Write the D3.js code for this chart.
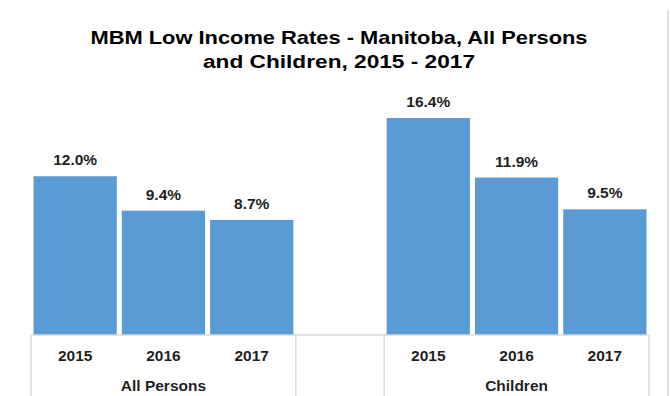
<!DOCTYPE html>
<html>
<head>
<meta charset="utf-8">
<script src="https://cdn.jsdelivr.net/npm/d3@7"></script>
<style>
  html, body { margin: 0; padding: 0; background: #fff; }
  svg { display: block; font-family: "Liberation Sans", Arial, sans-serif; }
</style>
</head>
<body>
<svg id="chart" width="670" height="396"></svg>
<script>
// MBM low income rates, Manitoba (percent)
const groups = ["All Persons", "Children"];
const years = ["2015", "2016", "2017"];
const allPersons = [12.0, 9.4, 8.7];
const children = [16.4, 11.9, 9.5];
const titleLines = ["MBM Low Income Rates - Manitoba, All Persons", "and Children, 2015 - 2017"];

const seriesByGroup = { "All Persons": allPersons, "Children": children };

// One slot per bar, with an empty slot separating the two groups
const slots = [];
groups.forEach((g, gi) => {
  if (gi > 0) slots.push("gap" + gi);
  years.forEach(y => slots.push(g + "|" + y));
});
const bars = [];
groups.forEach(g => years.forEach((y, i) => bars.push({ group: g, year: y, value: seriesByGroup[g][i], key: g + "|" + y })));

const svg = d3.select("#chart");
const left = 31, right = 649, baseline = 335;

const x = d3.scaleBand().domain(slots).range([left, right]).paddingInner(0.057).paddingOuter(0.0285);
const y = d3.scaleLinear().domain([0, 20]).range([baseline, baseline - 264.6]);

const grid = "#d9d9d9";
const ink = "#1f1f1f";
const fill = "#5b9bd5";

// Outer frame edge on the right
svg.append("line")
  .attr("x1", 668).attr("x2", 668).attr("y1", 10).attr("y2", 396)
  .attr("stroke", "#e0e0e0").attr("stroke-width", 2);

// Title
svg.append("g").selectAll("text").data(titleLines).join("text")
  .attr("x", 339).attr("y", (d, i) => 43.5 + i * 24)
  .attr("text-anchor", "middle")
  .attr("font-size", 19).attr("font-weight", "bold").attr("fill", "#000")
  .attr("textLength", (d, i) => i === 0 ? 497 : 272)
  .attr("lengthAdjust", "spacingAndGlyphs")
  .text(d => d);

// Bars
svg.append("g").selectAll("rect").data(bars).join("rect")
  .attr("x", d => x(d.key))
  .attr("width", x.bandwidth())
  .attr("y", d => y(d.value))
  .attr("height", d => y(0) - y(d.value))
  .attr("fill", fill);

// Value labels
svg.append("g").selectAll("text").data(bars).join("text")
  .attr("x", d => x(d.key) + x.bandwidth() / 2)
  .attr("y", d => y(d.value) - 11)
  .attr("text-anchor", "middle")
  .attr("font-size", 15.5).attr("font-weight", "bold").attr("fill", ink)
  .text(d => d.value.toFixed(1) + "%");

// Category axis: baseline plus group separators
svg.append("line")
  .attr("x1", left).attr("x2", right).attr("y1", baseline).attr("y2", baseline)
  .attr("stroke", grid).attr("stroke-width", 1.5);

const step = x.step();
const bounds = [];
slots.forEach((s, i) => {
  if (i === 0 || s.startsWith("gap") || (i > 0 && slots[i - 1].startsWith("gap"))) bounds.push(left + i * step);
});
bounds.push(right);
svg.append("g").selectAll("line").data(bounds).join("line")
  .attr("x1", d => d).attr("x2", d => d)
  .attr("y1", baseline).attr("y2", 396)
  .attr("stroke", grid).attr("stroke-width", 1.5);

// Year labels
svg.append("g").selectAll("text").data(bars).join("text")
  .attr("x", d => x(d.key) + x.bandwidth() / 2)
  .attr("y", 360.5)
  .attr("text-anchor", "middle")
  .attr("font-size", 15.5).attr("font-weight", "bold").attr("fill", ink)
  .text(d => d.year);

// Group labels
svg.append("g").selectAll("text").data(groups).join("text")
  .attr("x", g => x(g + "|" + years[1]) + x.bandwidth() / 2)
  .attr("y", 391)
  .attr("text-anchor", "middle")
  .attr("font-size", 15.5).attr("font-weight", "bold").attr("fill", ink)
  .text(g => g);
</script>
</body>
</html>
